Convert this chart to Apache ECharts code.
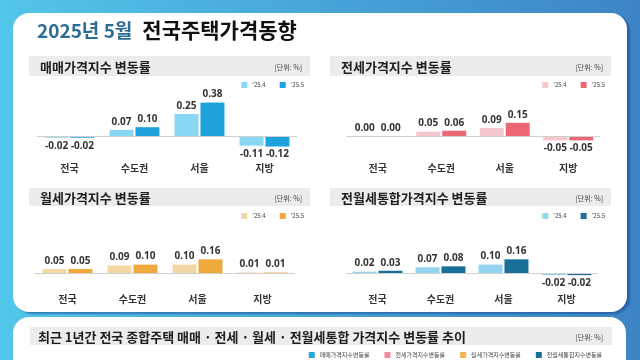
<!DOCTYPE html>
<html><head><meta charset="utf-8">
<script src="https://cdn.jsdelivr.net/npm/echarts@6/dist/echarts.min.js"></script>
<style>html,body{margin:0;padding:0;background:#fff}#c{width:640px;height:360px}</style>
</head><body><div id="c"></div>
<script>
// ---- data ----
const categories = ['전국', '수도권', '서울', '지방'];
const periodNames = ["'25.4", "'25.5"];
const saleApr = [-0.02, 0.07, 0.25, -0.11];
const saleMay = [-0.02, 0.10, 0.38, -0.12];
const jeonseApr = [0.00, 0.05, 0.09, -0.05];
const jeonseMay = [0.00, 0.06, 0.15, -0.05];
const rentApr = [0.05, 0.09, 0.10, 0.01];
const rentMay = [0.05, 0.10, 0.16, 0.01];
const combApr = [0.02, 0.07, 0.10, -0.02];
const combMay = [0.03, 0.08, 0.16, -0.02];
const panelTitles = ['매매가격지수 변동률', '전세가격지수 변동률', '월세가격지수 변동률', '전월세통합가격지수 변동률'];
const trendTitle = '최근 1년간 전국 종합주택 매매 · 전세 · 월세 · 전월세통합 가격지수 변동률 추이';
const trendNames = ['매매가격지수변동률', '전세가격지수변동률', '월세가격지수변동률', '전월세통합지수변동률'];
const unitText = '[단위: %]';
const mainTitleA = '2025년 5월';
const mainTitleB = '전국주택가격동향';

// ---- layout / styles ----
const FONT = '"Noto Sans CJK KR", "Noto Sans", sans-serif';
const panels = [
  { a: saleApr, b: saleMay, colors: ['#88d7f3', '#1ea2de'], left: 37, width: 260, top: 92, height: 66, min: -0.25, max: 0.5, legendRight: 331, legendTop: 77, hx: 29, hy: 56, hh: 20 },
  { a: jeonseApr, b: jeonseMay, colors: ['#f6c8cd', '#ea6773'], left: 346, width: 254, top: 92, height: 66, min: -0.25, max: 0.5, legendRight: 30, legendTop: 77, hx: 330, hy: 56, hh: 20 },
  { a: rentApr, b: rentMay, colors: ['#f5d6a5', '#f0a93c'], left: 35, width: 260, top: 247, height: 41.8, min: -0.175, max: 0.3, legendRight: 331, legendTop: 208, hx: 29, hy: 188, hh: 18 },
  { a: combApr, b: combMay, colors: ['#95d4f0', '#186f98'], left: 346, width: 252, top: 247, height: 41.8, min: -0.175, max: 0.3, legendRight: 30, legendTop: 208, hx: 330, hy: 188, hh: 18 }
];
const trendColors = ['#2aa7de', '#f08b9a', '#f3b44c', '#1b6e9a'];

const grids = [], xAxes = [], yAxes = [], series = [], legends = [], graphics = [];

graphics.push({ type: 'rect', z: -10, shape: { x: 0, y: 0, width: 640, height: 360 },
  style: { fill: new echarts.graphic.LinearGradient(0, 0, 1, 0, [{ offset: 0, color: '#52c6eb' }, { offset: 1, color: '#3d84c5' }]) } });
graphics.push({ type: 'rect', z: -9, shape: { x: 13, y: 13, width: 614, height: 299, r: 16 },
  style: { fill: '#ffffff', shadowColor: 'rgba(25,70,140,0.55)', shadowOffsetX: 3, shadowOffsetY: 2, shadowBlur: 2 } });
graphics.push({ type: 'rect', z: -9, shape: { x: 13, y: 317, width: 613, height: 80, r: [16, 16, 0, 0] },
  style: { fill: '#ffffff' } });

const fmt = p => Number(p.value).toFixed(2);
const mkData = arr => arr.map(v => ({ value: v, label: { position: v < 0 ? 'bottom' : 'top' } }));

panels.forEach((p, i) => {
  grids.push({ left: p.left, width: p.width, top: p.top, height: p.height, containLabel: false });
  xAxes.push({ type: 'category', gridIndex: i, data: categories, axisLine: { show: false }, axisTick: { show: false },
    axisLabel: { fontSize: 10, fontWeight: 'bold', color: '#333', margin: 5, fontFamily: FONT } });
  yAxes.push({ type: 'value', gridIndex: i, min: p.min, max: p.max, show: false });
  [p.a, p.b].forEach((arr, k) => {
    const s = {
      type: 'bar', name: periodNames[k], xAxisIndex: i, yAxisIndex: i, data: mkData(arr),
      barWidth: 24, barGap: '8%', itemStyle: { color: p.colors[k] },
      label: { show: true, formatter: fmt, fontSize: 10, fontWeight: 'bold', color: '#333', distance: 3, fontFamily: 'Noto Sans, sans-serif' },
      animation: false
    };
    if (k === 1) {
      s.markLine = { silent: true, symbol: ['none', 'none'], label: { show: false }, animation: false,
        lineStyle: { color: '#d0d0d0', width: 1, type: 'solid' }, data: [{ yAxis: 0 }] };
    }
    series.push(s);
  });
  legends.push({ right: p.legendRight, top: p.legendTop, itemWidth: 6, itemHeight: 6, itemGap: 14, icon: 'rect',
    textStyle: { fontSize: 6, color: '#444', fontFamily: FONT }, selectedMode: false,
    data: periodNames.map((n, k) => ({ name: n, itemStyle: { color: p.colors[k] } })) });
  graphics.push({ type: 'rect', z: -5, shape: { x: p.hx, y: p.hy, width: 281, height: p.hh }, style: { fill: '#ececec' } });
  graphics.push({ type: 'text', z: 5, x: p.hx + 11, y: p.hy + p.hh / 2 + 1,
    style: { text: panelTitles[i], font: 'bold 13px ' + FONT, fill: '#1e1e1e', textVerticalAlign: 'middle' } });
  graphics.push({ type: 'text', z: 5, x: p.hx + 273, y: p.hy + p.hh / 2 + 1,
    style: { text: unitText, font: '7px ' + FONT, fill: '#444', textAlign: 'right', textVerticalAlign: 'middle' } });
});

// bottom trend panel (chart body is below the visible area)
grids.push({ left: 40, right: 40, top: 420, height: 60 });
xAxes.push({ type: 'category', gridIndex: 4, data: [], show: false });
yAxes.push({ type: 'value', gridIndex: 4, show: false });
trendNames.forEach((n, k) => series.push({ type: 'bar', name: n, xAxisIndex: 4, yAxisIndex: 4, data: [], itemStyle: { color: trendColors[k] } }));
legends.push({ right: 33, top: 347, itemWidth: 6, itemHeight: 6, itemGap: 15, icon: 'rect', selectedMode: false,
  textStyle: { fontSize: 6, color: '#444', fontFamily: FONT }, data: trendNames });
graphics.push({ type: 'rect', z: -5, shape: { x: 30, y: 327, width: 582, height: 18 }, style: { fill: '#ececec' } });
graphics.push({ type: 'text', z: 5, x: 38, y: 337,
  style: { text: trendTitle, font: 'bold 13px ' + FONT, fill: '#1e1e1e', textVerticalAlign: 'middle' } });
graphics.push({ type: 'text', z: 5, x: 603, y: 337,
  style: { text: unitText, font: '7px ' + FONT, fill: '#444', textAlign: 'right', textVerticalAlign: 'middle' } });

const chart = echarts.init(document.getElementById('c'), null, { renderer: 'canvas' });
chart.setOption({
  animation: false,
  title: {
    text: '{a|' + mainTitleA + '}  {b|' + mainTitleB + '}', left: 32, top: 15,
    textStyle: { rich: {
      a: { fontSize: 19, fontWeight: 'bold', color: '#2a6c93', fontFamily: FONT },
      b: { fontSize: 21, fontWeight: 'bold', color: '#111', fontFamily: FONT } } }
  },
  graphic: { elements: graphics },
  legend: legends,
  grid: grids, xAxis: xAxes, yAxis: yAxes, series: series
});
</script></body></html>
